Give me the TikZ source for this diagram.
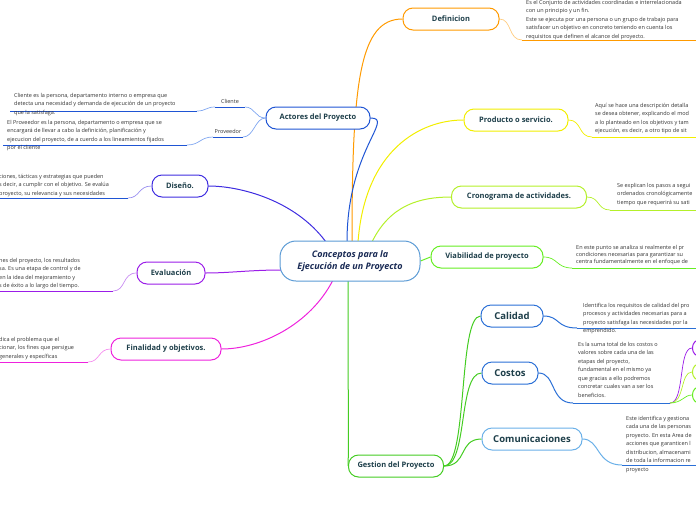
\documentclass[tikz,border=0pt]{standalone}
\usepackage{fontspec}
\setmainfont{Open Sans}
\usetikzlibrary{backgrounds}
\definecolor{navy}{HTML}{1E3F4A}
\definecolor{navytwo}{HTML}{1A2B55}
\definecolor{bodygray}{HTML}{333333}
\definecolor{cl}{HTML}{5B9BD5}
\definecolor{corange}{HTML}{FF9A00}
\definecolor{corangel}{HTML}{FFCC80}
\definecolor{cblue}{HTML}{1F55D4}
\definecolor{cbluel}{HTML}{7FA6F0}
\definecolor{cindigo}{HTML}{3F2DE0}
\definecolor{cindigol}{HTML}{9A90F0}
\definecolor{cpurple}{HTML}{9B1DE8}
\definecolor{cpurplel}{HTML}{C88CF2}
\definecolor{cmag}{HTML}{EE22DD}
\definecolor{cmagl}{HTML}{F590EE}
\definecolor{cyel}{HTML}{F2EE00}
\definecolor{cyell}{HTML}{F8F580}
\definecolor{clime}{HTML}{B4F02A}
\definecolor{climl}{HTML}{D8F890}
\definecolor{cgreen}{HTML}{66EE22}
\definecolor{cgreenl}{HTML}{B0F590}
\definecolor{cgest}{HTML}{44CC22}
\definecolor{ccal}{HTML}{2A6FD6}
\definecolor{ccall}{HTML}{88AFEA}
\definecolor{ccom}{HTML}{6AB0E8}
\begin{document}
\begin{tikzpicture}[x=1pt,y=-1pt,
  topic/.style={draw, line width=1pt, rounded corners=10pt, minimum height=22pt, inner sep=2pt,
    font=\bfseries\fontsize{7.5}{9}\selectfont, text=navy, fill=white},
  bigtopic/.style={topic, font=\bfseries\fontsize{9.5}{11}\selectfont},
  body/.style={font=\fontsize{5.5}{8.5}\selectfont, text=bodygray, align=left, anchor=north west, inner sep=0pt},
  sublabel/.style={font=\fontsize{5.5}{7}\selectfont, text=bodygray, inner sep=0pt},
  conn/.style={line width=1pt},
  thin/.style={line width=0.7pt}]
\useasboundingbox (0,0) rectangle (696,520);

% ---------- central node ----------
\node[draw=cl, line width=1pt, rounded corners=16pt, minimum width=140pt, minimum height=40pt, fill=white,
  font=\bfseries\itshape\fontsize{9}{12}\selectfont, align=center, text=navytwo] (c) at (350,261)
  {Conceptos para la\\Ejecución de un Proyecto};

% ---------- main topics ----------
\node[topic, draw=corange, minimum width=96pt] (def) at (451,19) {Definicion};
\node[topic, draw=cblue, minimum width=104pt] (act) at (318,118) {Actores del Proyecto};
\node[topic, draw=cindigo, minimum width=56pt] (dis) at (180,186) {Diseño.};
\node[topic, draw=cpurple, minimum width=68pt] (eva) at (171,273) {Evaluación};
\node[topic, draw=cmag, minimum width=110pt] (fin) at (166,349) {Finalidad y objetivos.};
\node[topic, draw=cyel, minimum width=104pt] (pro) at (516,120) {Producto o servicio.};
\node[topic, draw=clime, minimum width=135pt] (cro) at (519,197) {Cronograma de actividades.};
\node[topic, draw=cgreen, minimum width=112pt] (via) at (487,257) {Viabilidad de proyecto};
\node[topic, draw=cgest, minimum width=95pt] (ges) at (396,466) {Gestion del Proyecto};
\node[bigtopic, draw=ccal, minimum width=62pt] (cal) at (512,316) {Calidad};
\node[bigtopic, draw=ccal, minimum width=56pt] (cos) at (510,373) {Costos};
\node[bigtopic, draw=ccom, minimum width=100pt] (com) at (532,439) {Comunicaciones};

% partial nodes at right edge (Costos children)
\node[draw=cpurple, line width=1pt, rounded corners=8pt, minimum width=60pt, minimum height=17pt, anchor=west] (k1) at (692,348) {};
\node[draw=clime, line width=1pt, rounded corners=8pt, minimum width=60pt, minimum height=17pt, anchor=west] (k2) at (692,372) {};
\node[draw=cgreen, line width=1pt, rounded corners=8pt, minimum width=60pt, minimum height=17pt, anchor=west] (k3) at (692,395) {};

% ---------- sub labels ----------
\node[sublabel] (cli) at (230,101) {Cliente};
\node[sublabel] (prv) at (228,131) {Proveedor};

% ---------- body texts ----------
\node[body] (tdef) at (526,0) {Es el Conjunto de actividades coordinadas e interrelacionada\\con un principio y un fin.\\Este se ejecuta por una persona o un grupo de trabajo para\\satisfacer un objetivo en concreto teniendo en cuenta los\\requisitos que definen el alcance del proyecto.};
\node[body] (tcli) at (14,93) {Cliente es la persona, departamento interno o empresa que\\detecta una necesidad y demanda de ejecución de un proyecto\\que la satisfaga.};
\node[body] (tprv) at (7,120) {El Proveedor es la persona, departamento o empresa que se\\encargará de llevar a cabo la definición, planificación y\\ejecucion del proyecto, de a cuerdo a los lineamientos fijados\\por el cliente};
\node[body] (tdis) at (-1,174) {ciones, tácticas y estrategias que pueden\\s decir, a cumplir con el objetivo. Se evalúa\\proyecto, su relevancia y sus necesidades};
\node[body] (teva) at (-1,258) {nes del proyecto, los resultados\\sa. Es una etapa de control y de\\ en la idea del mejoramiento y\\s de éxito a lo largo del tiempo.};
\node[body] (tfin) at (-1,337) {dica el problema que el\\cionar, los fines que persigue\\generales y específicas};
\node[body] (tpro) at (595,103) {Aquí se hace una descripción detalla\\se desea obtener, explicando el mod\\a lo planteado en los objetivos y tam\\ejecución, es decir, a otro tipo de sit};
\node[body] (tcro) at (617,183) {Se explican los pasos a segui\\ordenados cronológicamente\\tiempo que requerirá su sati};
\node[body, font=\fontsize{5.5}{7}\selectfont] (tvia) at (576,245.5) {En este punto se analiza si realmente el pr\\condiciones necesarias para garantizar su\\centra fundamentalmente en el enfoque de};
\node[body] (tcal) at (583,303) {Identifica los requisitos de calidad del pro\\procesos y actividades necesarias para a\\proyecto satisfaga las necesidades por la\\emprendido.};
\node[body] (tcos) at (578,342) {Es la suma total de los costos o\\valores sobre cada una de las\\etapas del proyecto,\\fundamental en el mismo ya\\que gracias a ello podremos\\concretar cuales van a ser los\\beneficios.};
\node[body] (tcom) at (626,416) {Este identifica y gestiona\\cada una de las personas\\proyecto. En esta Area de\\acciones que garanticen l\\distribucion, almacenami\\de toda la informacion re\\proyecto};

% ---------- coordinates for underlines ----------
\coordinate (udefL) at (522,40);  \coordinate (udefR) at (697,40);
\coordinate (ucliL) at (215,107); \coordinate (ucliR) at (245,107);
\coordinate (uprvL) at (213,137); \coordinate (uprvR) at (243,137);
\coordinate (tcliL) at (10,111);  \coordinate (tcliR) at (197,111);
\coordinate (tprvL) at (3,145);   \coordinate (tprvR) at (187,145);
\coordinate (udisL) at (-1,198);  \coordinate (udisR) at (128,198);
\coordinate (uevaL) at (-1,291);  \coordinate (uevaR) at (113,291);
\coordinate (ufinL) at (-1,362);  \coordinate (ufinR) at (88,362);
\coordinate (uproL) at (592,137); \coordinate (uproR) at (697,137);
\coordinate (ucroL) at (610,210); \coordinate (ucroR) at (697,210);
\coordinate (uviaL) at (572,268); \coordinate (uviaR) at (697,268);
\coordinate (ucalL) at (577,328); \coordinate (ucalR) at (697,328);
\coordinate (ucosL) at (573,403); \coordinate (ucosR) at (670,403);
\coordinate (ucomL) at (622,465); \coordinate (ucomR) at (697,465);

\begin{scope}[on background layer]
% center -> topics
\draw[conn, corange] (352,242) .. controls (352,80) and (360,19) .. (def.west);
\draw[conn, cblue] (347,242) .. controls (347,150) and (395,118) .. (act.east);
\draw[conn, cyel] (358,242) .. controls (365,150) and (420,120) .. (pro.west);
\draw[conn, clime] (372,242) .. controls (390,205) and (420,197) .. (cro.west);
\draw[conn, cgreen] (c.east) -- (via.west);
\draw[conn, cgest] (348,280) .. controls (348,420) and (349,440) .. (ges.west);
\draw[conn, cindigo] (326,242) .. controls (295,200) and (240,186) .. (dis.east);
\draw[conn, cpurple] (281,270) .. controls (250,270) and (230,273) .. (eva.east);
\draw[conn, cmag] (333,280) .. controls (310,325) and (260,349) .. (fin.east);
% gestion -> children
\draw[conn, cgest] (ges.east) .. controls (468,466) and (458,316) .. (cal.west);
\draw[conn, cgest] (ges.east) .. controls (468,466) and (458,373) .. (cos.west);
\draw[conn, cgest] (ges.east) .. controls (468,466) and (458,439) .. (com.west);
% actores -> sub labels
\draw[thin, cbluel] (act.west) .. controls (255,118) and (255,107) .. (ucliR);
\draw[thin, cbluel] (act.west) .. controls (255,118) and (254,137) .. (uprvR);
\draw[conn, cblue] (ucliL) -- (ucliR);
\draw[conn, cblue] (uprvL) -- (uprvR);
\draw[thin, cbluel] (ucliL) .. controls (206,107) and (206,111) .. (tcliR);
\draw[thin, cbluel] (uprvL) .. controls (200,137) and (200,145) .. (tprvR);
\draw[conn, cblue] (tcliL) -- (tcliR);
\draw[conn, cblue] (tprvL) -- (tprvR);
% topics -> texts
\draw[thin, corangel] (def.east) .. controls (512,19) and (508,40) .. (udefL);
\draw[conn, corange] (udefL) -- (udefR);
\draw[thin, cindigol] (dis.west) .. controls (138,186) and (140,198) .. (udisR);
\draw[conn, cblue] (udisL) -- (udisR);
\draw[thin, cpurplel] (eva.west) .. controls (122,273) and (126,291) .. (uevaR);
\draw[conn, cpurple] (uevaL) -- (uevaR);
\draw[thin, cmagl] (fin.west) .. controls (98,349) and (100,362) .. (ufinR);
\draw[conn, cmag] (ufinL) -- (ufinR);
\draw[thin, cyel] (pro.east) .. controls (582,120) and (578,137) .. (uproL);
\draw[conn, cyel] (uproL) -- (uproR);
\draw[thin, clime] (cro.east) .. controls (600,197) and (597,210) .. (ucroL);
\draw[conn, clime] (ucroL) -- (ucroR);
\draw[thin, cgreen] (via.east) .. controls (558,257) and (556,268) .. (uviaL);
\draw[conn, cgreen] (uviaL) -- (uviaR);
\draw[conn, ccal] (cal.east) .. controls (560,316) and (556,328) .. (ucalL);
\draw[conn, ccal] (ucalL) -- (ucalR);
\draw[conn, ccal] (cos.east) .. controls (556,373) and (550,403) .. (ucosL);
\draw[conn, ccal] (ucosL) -- (ucosR);
\draw[conn, ccom] (com.east) .. controls (600,439) and (596,465) .. (ucomL);
\draw[conn, ccal] (ucomL) -- (ucomR);
% costos children
\draw[thin, cpurple] (ucosR) .. controls (685,403) and (678,348) .. (k1.west);
\draw[thin, clime] (ucosR) .. controls (685,403) and (680,372) .. (k2.west);
\draw[thin, cgreen] (ucosR) .. controls (682,403) and (684,395) .. (k3.west);
\end{scope}
\end{tikzpicture}
\end{document}
